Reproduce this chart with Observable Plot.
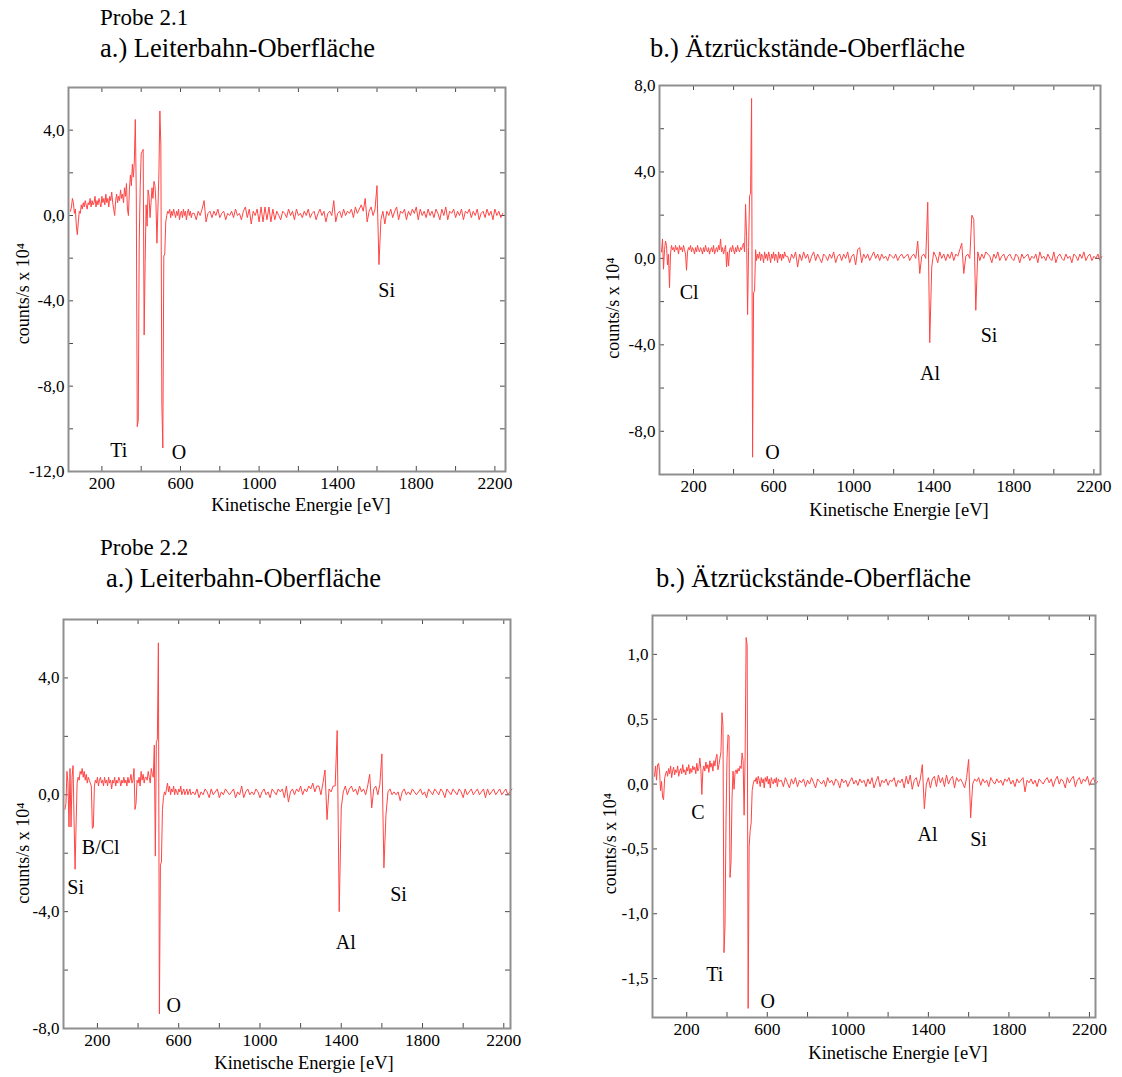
<!DOCTYPE html>
<html>
<head>
<meta charset="utf-8">
<script src="https://cdn.jsdelivr.net/npm/d3@7"></script>
<script src="https://cdn.jsdelivr.net/npm/@observablehq/plot@0.6"></script>
<style>
  html, body { margin: 0; padding: 0; background: #ffffff; }
  #root { position: relative; width: 1122px; height: 1077px; font-family: "Liberation Serif", "Times New Roman", serif; color: #000; }
  .title { position: absolute; font-size: 23px; line-height: 1; white-space: pre; }
  .sub { position: absolute; font-size: 26.5px; line-height: 1; white-space: pre; }
  .panel { position: absolute; }
</style>
</head>
<body>
<div id="root">
  <div class="title" style="left:100px;top:6px">Probe 2.1</div>
  <div class="sub" style="left:100px;top:35px">a.) Leiterbahn-Oberfläche</div>
  <div class="sub" style="left:650px;top:35px">b.) Ätzrückstände-Oberfläche</div>
  <div class="title" style="left:100px;top:536px">Probe 2.2</div>
  <div class="sub" style="left:106px;top:565px">a.) Leiterbahn-Oberfläche</div>
  <div class="sub" style="left:656px;top:565px">b.) Ätzrückstände-Oberfläche</div>
</div>
<script>
// ---------- energy grid (eV) ----------
const energyLow = [
  40,45,50,55,60,65,70,75,80,85,
  90,95,100,105,110,115,120,125,130,135,
  140,145,150,155,160,165,170,175,180,185,
  190,195,200,205,210,215,220,225,230,235,
  240,245,250,255,260,265,270,275,280,285,
  290,295,300,305,310,315,320,325,330,335,
  340,345,350,355,360,365,370,375,380,385,
  390,395,400,405,410,415,420,425,430,435,
  440,445,450,455,460,465,470,475,480,485,
  490,495,500,505,510,515,520,525,530,535,
  540,545,550,555,560,565,570,575,580,585,
  590,595,600,605,610,615,620,625,630,635,
  640,645,650,655,660
];
const energyHigh = [
  670,680,690,700,710,720,730,740,750,760,
  770,780,790,800,810,820,830,840,850,860,
  870,880,890,900,910,920,930,940,950,960,
  970,980,990,1000,1010,1020,1030,1040,1050,1060,
  1070,1080,1090,1100,1110,1120,1130,1140,1150,1160,
  1170,1180,1190,1200,1210,1220,1230,1240,1250,1260,
  1270,1280,1290,1300,1310,1320,1330,1340,1350,1360,
  1370,1380,1390,1400,1410,1420,1430,1440,1450,1460,
  1470,1480,1490,1500,1510,1520,1530,1540,1550,1560,
  1570,1580,1590,1600,1610,1620,1630,1640,1650,1660,
  1670,1680,1690,1700,1710,1720,1730,1740,1750,1760,
  1770,1780,1790,1800,1810,1820,1830,1840,1850,1860,
  1870,1880,1890,1900,1910,1920,1930,1940,1950,1960,
  1970,1980,1990,2000,2010,2020,2030,2040,2050,2060,
  2070,2080,2090,2100,2110,2120,2130,2140,2150,2160,
  2170,2180,2190,2200,2210,2220,2230,2240
];

// ---------- Probe 2.1 a.) Leiterbahn-Oberfläche (counts/s x 10^4) ----------
const p21aLow = [
  0.2,0.4,0.8,0.6,0.1,0.3,-0.5,-0.9,-0.3,0.2,
  0.1,0.5,0.3,0.6,0.4,0.7,0.5,0.3,0.6,0.5,
  0.8,0.4,0.7,0.5,0.6,0.9,0.4,0.7,0.5,0.8,
  0.6,0.4,0.9,0.6,0.8,0.5,1.0,0.6,0.8,0.4,
  0.9,0.7,1.1,0.6,0.3,0.0,0.7,1.0,0.6,0.9,
  0.7,1.2,0.8,1.0,0.6,1.3,0.9,1.5,0.3,0.0,
  1.2,1.9,1.4,2.4,1.8,2.5,4.5,1.0,-9.9,-9.6,
  -1.2,1.4,2.9,3.0,3.1,-5.6,-2.2,0.5,-0.5,1.2,
  0.9,-0.1,0.6,1.3,0.8,1.6,1.4,0.6,-1.3,0.3,
  1.9,4.9,3.3,-8.8,-10.9,-1.9,-1.8,-0.3,0.0,0.2,
  0.1,0.3,-0.1,0.2,0.0,0.3,0.1,-0.1,0.2,0.0,
  0.3,-0.2,0.1,0.2,-0.1,0.3,0.0,0.2,-0.2,0.1,
  0.3,0.0,0.2,-0.1,0.1
];
const p21aHigh = [
  0.1,-0.2,0.2,0.0,0.3,0.7,-0.3,0.1,0.2,-0.1,
  0.2,0.0,0.3,-0.1,0.1,0.2,-0.2,0.1,0.0,0.2,
  -0.1,0.3,0.0,0.1,-0.2,0.2,0.4,-0.1,0.3,-0.4,
  0.2,0.0,0.3,-0.3,0.4,-0.3,0.4,-0.2,0.4,-0.3,
  0.3,-0.2,0.2,0.0,-0.2,0.2,0.1,-0.1,0.3,0.0,
  0.2,-0.2,0.3,0.0,0.1,-0.1,0.2,0.0,0.3,-0.1,
  0.1,0.2,-0.2,0.1,0.3,0.0,0.2,-0.3,0.1,0.2,
  0.0,0.7,-0.3,0.1,0.2,-0.1,0.3,0.0,0.2,0.1,
  0.3,-0.1,0.4,0.1,0.3,0.5,0.2,0.8,-0.3,0.2,
  0.4,0.0,0.3,1.4,-2.3,-0.2,0.2,-0.4,0.2,0.0,
  0.3,-0.1,0.2,0.4,-0.2,0.2,0.1,0.3,-0.2,0.2,
  0.0,0.3,0.1,0.4,-0.2,0.3,0.0,0.2,-0.1,0.3,
  0.0,0.2,-0.1,0.3,0.1,-0.2,0.3,0.0,0.4,-0.2,
  0.2,0.1,0.3,-0.1,0.2,0.0,0.3,-0.2,0.2,0.1,
  0.3,-0.1,0.2,0.0,0.3,-0.2,0.1,0.2,-0.1,0.3,
  0.0,0.2,-0.2,0.3,0.0,0.2,-0.1,0.1
];

// ---------- Probe 2.1 b.) Ätzrückstände-Oberfläche ----------
const p21bLow = [
  0.3,0.9,-0.5,0.4,0.8,0.6,-0.3,0.2,-1.35,0.2,
  0.6,0.4,0.5,0.3,0.6,0.4,0.5,0.2,0.6,0.4,
  0.5,0.3,0.6,0.4,0.2,-0.55,0.3,0.5,0.4,0.6,
  0.3,0.5,0.4,0.2,0.5,0.3,0.6,0.4,0.3,0.5,
  0.4,0.2,0.5,0.3,0.6,0.4,0.3,0.5,0.2,0.4,
  0.5,0.3,0.6,0.2,0.4,0.5,0.3,0.6,0.4,0.9,
  0.3,0.5,0.2,0.4,0.6,-0.4,0.3,-0.35,0.4,0.5,
  0.3,0.6,0.4,0.2,0.5,0.3,0.6,0.4,0.3,0.5,
  0.4,0.6,0.7,0.3,2.5,1.0,-2.6,0.5,2.9,3.0,
  7.4,-9.2,-1.6,-1.5,0.4,-0.1,0.2,0.0,0.3,-0.1,
  0.2,0.1,-0.2,0.3,0.0,0.2,-0.1,0.3,0.1,-0.2,
  0.2,0.0,0.3,-0.1,0.2,0.1,-0.2,0.3,0.0,0.2,
  -0.1,0.2,0.0,0.3,0.1
];
const p21bHigh = [
  0.1,-0.2,0.2,0.0,0.3,-0.4,0.2,-0.1,0.3,0.0,
  0.2,-0.2,0.1,0.3,-0.1,0.2,0.0,-0.2,0.2,0.1,
  -0.1,0.2,0.0,0.3,-0.2,0.1,0.2,-0.1,0.2,0.0,
  0.3,-0.2,0.1,0.2,-0.3,0.4,0.5,-0.2,0.2,0.0,
  0.2,-0.1,0.1,0.3,0.0,0.2,-0.1,0.2,0.0,0.1,
  -0.1,0.2,0.1,0.0,0.2,-0.1,0.1,0.2,0.0,0.1,
  0.2,-0.1,0.1,0.2,0.0,0.8,-0.7,0.1,0.2,0.0,
  2.6,-3.9,-0.4,0.3,0.1,-0.2,0.3,0.0,0.2,-0.1,
  0.2,0.0,0.3,-0.1,0.2,0.1,0.4,0.7,-0.7,0.1,
  0.2,0.0,2.0,1.8,-2.4,0.3,-0.1,0.2,0.0,0.3,
  0.2,0.1,-0.2,0.2,0.0,0.3,-0.1,0.1,0.2,-0.1,
  0.1,0.2,0.0,-0.1,0.2,0.1,-0.2,0.2,0.0,0.1,
  0.2,-0.1,0.1,0.0,0.2,-0.2,0.3,0.0,0.1,-0.1,
  0.2,0.0,-0.1,0.3,-0.2,0.1,0.2,0.0,-0.1,0.2,
  0.0,0.1,-0.2,0.2,0.1,-0.1,0.2,0.0,0.3,-0.1,
  0.1,0.2,-0.1,0.1,0.0,0.2,-0.1,0.1
];

// ---------- Probe 2.2 a.) Leiterbahn-Oberfläche ----------
const p22aLow = [
  -0.5,-0.3,0.8,0.4,-1.1,0.9,-1.1,0.6,1.0,-0.9,
  -2.55,-1.0,0.4,0.6,0.5,0.8,0.7,0.9,0.6,0.8,
  0.5,0.7,0.4,0.6,0.5,0.4,0.3,-1.15,-1.1,0.3,
  0.5,0.4,0.6,0.3,0.5,0.6,0.4,0.5,0.3,0.6,
  0.4,0.5,0.3,0.6,0.4,0.5,0.2,0.5,0.4,0.6,
  0.3,0.5,0.4,0.6,0.5,0.3,0.5,0.4,0.6,0.4,
  0.5,0.3,0.6,0.4,0.5,0.7,0.4,0.5,0.9,-0.5,
  -0.3,0.5,0.4,0.6,0.3,0.8,0.5,0.7,0.4,0.6,
  0.6,0.5,0.8,0.6,0.4,0.9,0.7,0.6,1.7,-2.1,
  1.8,1.9,5.2,-7.5,-2.4,-2.3,-0.5,-0.1,0.1,0.0,
  0.2,0.4,0.1,0.3,0.0,0.2,0.1,0.3,0.0,0.2,
  0.1,0.0,0.2,0.1,0.3,0.0,0.1,0.2,0.0,0.1,
  0.2,0.0,0.1,0.2,0.0
];
const p22aHigh = [
  0.1,0.0,0.2,-0.1,0.1,0.0,0.2,0.1,-0.1,0.2,
  0.0,0.1,0.2,-0.1,0.1,0.0,0.2,0.1,0.0,0.1,
  0.2,-0.1,0.1,0.0,0.3,-0.1,0.1,0.2,0.0,0.1,
  0.0,0.2,0.1,-0.1,0.1,0.2,0.0,0.1,-0.1,0.2,
  0.1,0.0,0.2,0.1,0.2,-0.1,0.3,-0.25,0.1,0.2,
  0.0,0.2,0.1,0.3,0.0,0.2,0.1,0.3,0.2,0.4,
  0.1,0.3,0.3,0.0,0.4,0.85,-0.85,0.2,0.1,0.3,
  0.3,2.2,-4.0,-0.45,0.1,0.3,0.0,0.2,0.3,0.1,
  0.2,0.0,0.3,0.1,0.2,0.0,0.3,0.7,-0.45,0.2,
  0.3,0.0,0.35,1.4,-2.5,-0.7,0.1,0.2,0.0,0.1,
  0.0,0.1,-0.2,0.1,0.2,0.0,0.1,0.0,0.2,0.1,
  0.0,0.1,0.2,0.0,0.1,-0.1,0.2,0.1,0.0,0.2,
  0.1,0.0,0.2,0.1,-0.1,0.2,0.1,0.0,0.2,0.1,
  0.0,0.2,0.1,-0.1,0.2,0.0,0.1,0.2,0.0,0.1,
  0.2,0.0,0.1,0.2,-0.1,0.2,0.0,0.1,0.2,0.0,
  0.1,0.2,0.0,0.1,0.2,0.0,0.1,0.2
];

// ---------- Probe 2.2 b.) Ätzrückstände-Oberfläche ----------
const p22bLow = [
  0.06,0.14,0.03,0.15,0.16,0.1,-0.05,0.02,-0.1,-0.12,
  0.04,0.08,0.1,0.06,0.12,0.08,0.14,0.05,0.1,0.13,
  0.07,0.11,0.09,0.14,0.06,0.1,0.12,0.08,0.15,0.09,
  0.11,0.07,0.13,0.1,0.15,0.08,0.12,0.09,0.14,0.11,
  0.13,0.08,0.16,0.1,0.12,0.2,0.12,-0.08,0.1,0.14,
  0.1,0.17,0.12,0.15,0.09,0.18,0.13,0.16,0.1,0.18,
  0.14,0.2,0.23,0.11,0.15,0.2,0.25,0.55,0.45,-1.3,
  -1.1,-0.3,0.2,0.38,0.37,-0.72,-0.6,-0.1,0.1,-0.04,
  0.09,0.11,0.08,0.12,0.1,0.14,0.12,0.24,0.18,-0.24,
  0.22,1.13,1.07,-1.73,-0.48,-0.36,-0.3,-0.05,0.0,0.03,
  0.02,0.05,0.0,0.06,0.03,-0.02,0.05,0.01,0.04,-0.03,
  0.05,0.02,0.06,0.0,0.04,-0.03,0.05,0.02,0.0,0.04,
  0.01,0.05,-0.02,0.04,0.02
];
const p22bHigh = [
  0.03,-0.02,0.05,0.01,-0.03,0.04,0.0,0.05,-0.02,0.03,
  0.01,0.04,-0.02,0.03,0.0,0.05,0.01,-0.03,0.04,0.02,
  0.0,0.03,-0.02,0.05,0.01,0.03,-0.01,0.04,0.02,-0.03,
  0.04,0.01,0.03,-0.02,0.02,0.05,0.0,0.03,-0.01,0.04,
  0.01,0.03,-0.02,0.04,0.0,0.05,-0.03,0.02,0.06,-0.02,
  0.03,0.01,0.04,-0.01,0.03,0.02,0.05,-0.02,0.03,0.01,
  0.04,-0.03,0.06,0.0,0.07,-0.04,0.03,0.05,-0.02,0.04,
  0.15,-0.19,0.0,0.05,-0.03,0.04,0.06,-0.02,0.07,0.01,
  0.05,-0.02,0.07,0.0,0.04,0.06,-0.03,0.05,0.02,0.04,
  0.01,-0.03,0.05,0.19,-0.26,0.0,0.04,0.02,0.05,-0.01,
  0.04,0.01,0.03,-0.02,0.05,0.02,0.0,0.04,0.01,0.03,
  -0.01,0.04,0.02,0.05,0.0,0.03,-0.02,0.04,0.01,0.03,
  0.05,-0.06,0.03,0.01,0.04,0.0,0.03,-0.02,0.04,0.02,
  0.0,0.03,0.05,0.01,0.04,-0.02,0.03,0.06,0.0,0.04,
  0.02,-0.03,0.05,0.01,0.04,0.06,-0.02,0.03,0.05,0.0,
  0.04,0.02,0.06,-0.01,0.03,0.05,0.0,0.02
];

// ---------- peak annotations ----------
const p21aPeaks = ["Ti", "O", "Si"];
const p21aPeakE = [286, 592, 1649];
const p21aPeakV = [-11.0, -11.1, -3.5];

const p21bPeaks = ["Cl", "O", "Al", "Si"];
const p21bPeakE = [178, 594, 1381, 1676];
const p21bPeakV = [-1.6, -9.0, -5.35, -3.55];

const p22aPeaks = ["B/Cl", "Si", "O", "Al", "Si"];
const p22aPeakE = [216, 93, 575, 1422, 1682];
const p22aPeakV = [-1.8, -3.16, -7.2, -5.07, -3.4];

const p22bPeaks = ["C", "Ti", "O", "Al", "Si"];
const p22bPeakE = [255, 339, 602, 1396, 1649];
const p22bPeakV = [-0.22, -1.47, -1.68, -0.39, -0.43];

// ---------- axis ticks ----------
const xTickLabels = [200, 600, 1000, 1400, 1800, 2200];
const xTickMarks = [200, 400, 600, 800, 1000, 1200, 1400, 1600, 1800, 2000, 2200];

const yLabelTitle = "counts/s x 10⁴";
const xLabelTitle = "Kinetische Energie [eV]";

const fmt = d => d.toFixed(1).replace(".", ",");
const root = document.getElementById("root");

function rows(low, high) {
  const v = low.concat(high);
  if (v.length !== energyLow.length + energyHigh.length) console.error("length mismatch", v.length);
  const e = energyLow.concat(energyHigh);
  return e.map((x, i) => ({e: x, v: v[i]})).filter(d => d.v !== undefined);
}

function panel(cfg) {
  const W = cfg.width - cfg.ml - cfg.mr;
  const H = cfg.height - cfg.mt - cfg.mb;
  const data = rows(cfg.low, cfg.high);
  const peaks = cfg.peaks.map((t, i) => ({t, e: cfg.peakE[i], v: cfg.peakV[i]}));
  const tk = {stroke: "#4a4a4a", strokeWidth: 1};
  const svg = Plot.plot({
    width: cfg.width,
    height: cfg.height,
    marginLeft: cfg.ml, marginRight: cfg.mr, marginTop: cfg.mt, marginBottom: cfg.mb,
    style: {fontFamily: "'Liberation Serif', 'Times New Roman', serif", fontSize: "17px", background: "transparent", color: "#000", overflow: "visible"},
    x: {domain: cfg.xDomain},
    y: {domain: cfg.yDomain},
    marks: [
      Plot.tickX(xTickMarks, {x: d => d, insetTop: H - 5, ...tk}),
      Plot.tickX(xTickMarks, {x: d => d, insetBottom: H - 5, ...tk}),
      Plot.tickY(cfg.yMarks, {y: d => d, insetRight: W - 5, ...tk}),
      Plot.tickY(cfg.yMarks, {y: d => d, insetLeft: W - 5, ...tk}),
      Plot.line(data, {x: "e", y: "v", stroke: "#ff4545", strokeWidth: 1}),
      Plot.frame({stroke: "#8f8f8f", strokeWidth: 2}),
      Plot.axisX({ticks: xTickLabels, tickSize: 0, tickPadding: 5, tickFormat: d => String(d), label: null, fontSize: 17.5}),
      Plot.axisY({ticks: cfg.yLabels, tickSize: 0, tickPadding: 4, tickFormat: fmt, label: null, fontSize: 17}),
      Plot.text([xLabelTitle], {text: d => d, frameAnchor: "bottom", textAnchor: "middle", lineAnchor: "middle", dx: cfg.xtdx, dy: cfg.xtdy, fontSize: 18.5}),
      Plot.text([yLabelTitle], {text: d => d, frameAnchor: "left", textAnchor: "middle", lineAnchor: "middle", dx: cfg.ytdx, dy: cfg.ytdy, rotate: -90, fontSize: 18}),
      Plot.text(peaks, {x: "e", y: "v", text: "t", fontSize: 20})
    ]
  });
  const div = document.createElement("div");
  div.className = "panel";
  div.style.left = cfg.left + "px";
  div.style.top = cfg.top + "px";
  div.appendChild(svg);
  root.appendChild(div);
}

panel({
  left: 0, top: 75, width: 560, height: 450, ml: 68, mr: 55, mt: 12, mb: 54,
  xDomain: [30, 2254], yDomain: [-12, 6],
  yLabels: [-12, -8, -4, 0, 4], yMarks: [-12, -10, -8, -6, -4, -2, 0, 2, 4, 6],
  low: p21aLow, high: p21aHigh,
  peaks: p21aPeaks, peakE: p21aPeakE, peakV: p21aPeakV,
  xtdx: 14, xtdy: 34, ytdx: -45, ytdy: 14
});
panel({
  left: 580, top: 75, width: 542, height: 450, ml: 79, mr: 22, mt: 10, mb: 51,
  xDomain: [30, 2233], yDomain: [-10, 8],
  yLabels: [-8, -4, 0, 4, 8], yMarks: [-10, -8, -6, -4, -2, 0, 2, 4, 6, 8],
  low: p21bLow, high: p21bHigh,
  peaks: p21bPeaks, peakE: p21bPeakE, peakV: p21bPeakV,
  xtdx: 19, xtdy: 36, ytdx: -46, ytdy: 28
});
panel({
  left: 0, top: 605, width: 560, height: 472, ml: 63, mr: 50, mt: 14, mb: 49,
  xDomain: [33, 2233], yDomain: [-8, 6],
  yLabels: [-8, -4, 0, 4], yMarks: [-8, -6, -4, -2, 0, 2, 4, 6],
  low: p22aLow, high: p22aHigh,
  peaks: p22aPeaks, peakE: p22aPeakE, peakV: p22aPeakV,
  xtdx: 17, xtdy: 35, ytdx: -40, ytdy: 29
});
panel({
  left: 580, top: 605, width: 542, height: 472, ml: 72, mr: 27, mt: 10, mb: 60,
  xDomain: [30, 2230], yDomain: [-1.8, 1.3],
  yLabels: [-1.5, -1, -0.5, 0, 0.5, 1], yMarks: [-1.5, -1, -0.5, 0, 0.5, 1],
  low: p22bLow, high: p22bHigh,
  peaks: p22bPeaks, peakE: p22bPeakE, peakV: p22bPeakV,
  xtdx: 24, xtdy: 36, ytdx: -42, ytdy: 27
});
</script>
</body>
</html>
